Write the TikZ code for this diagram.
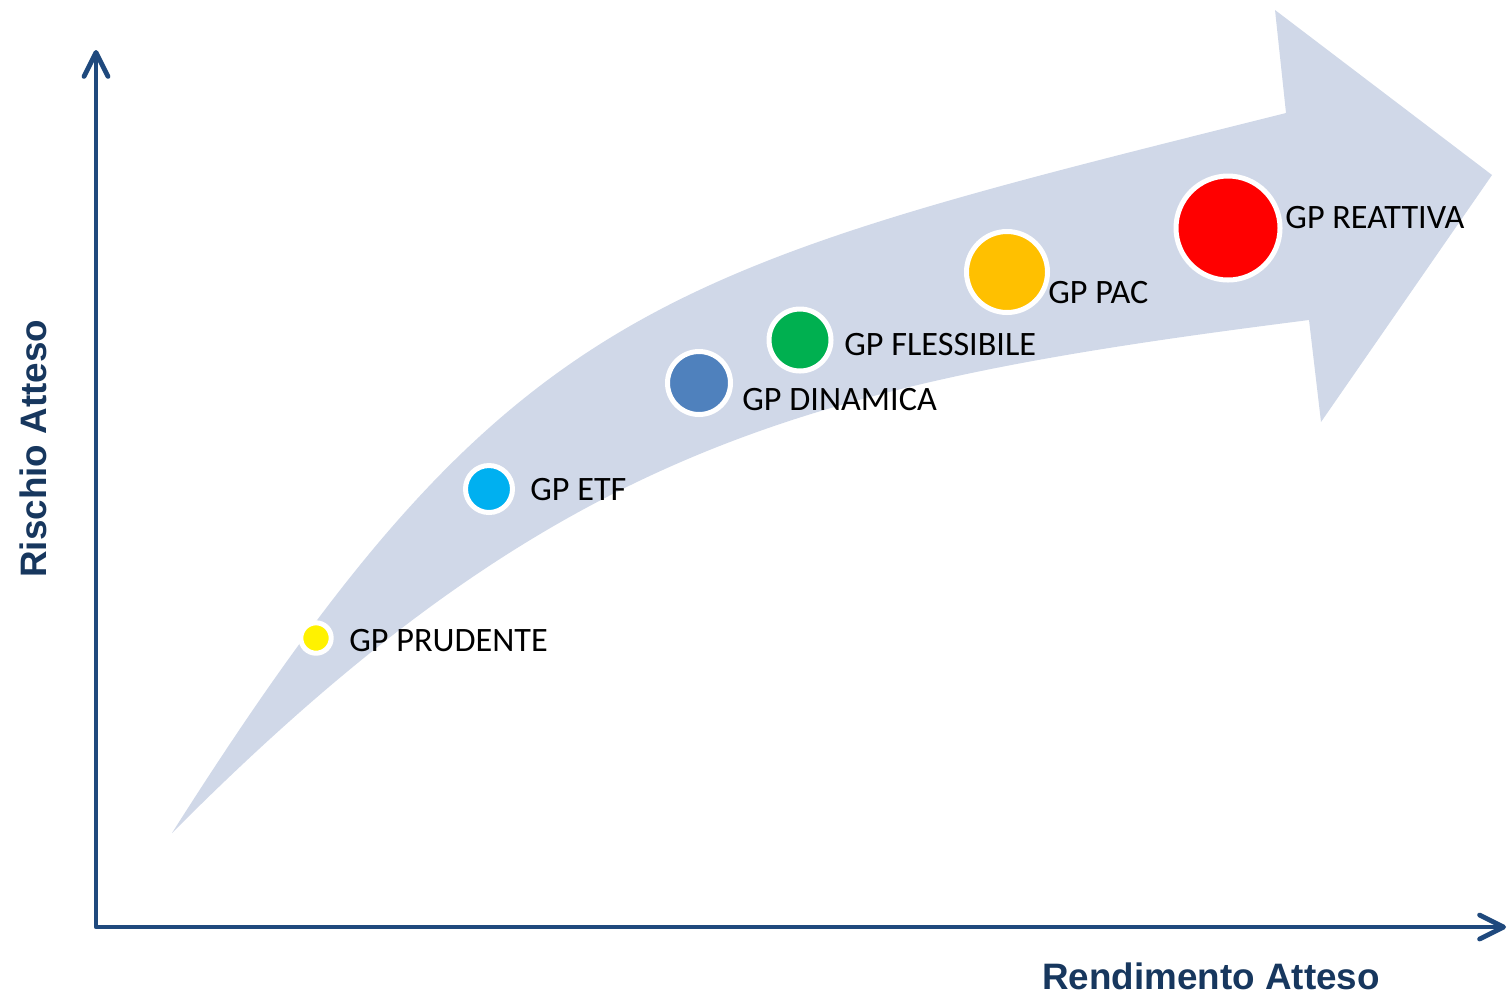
\documentclass[tikz,border=0pt]{standalone}
\usepackage{fontspec}
\setmainfont{Carlito}
\newfontfamily\axisfont{Liberation Sans}
\usetikzlibrary{arrows.meta}
\definecolor{bandblue}{RGB}{208,216,232}
\definecolor{axisblue}{RGB}{31,73,125}
\definecolor{titleblue}{RGB}{23,55,94}
\definecolor{etfblue}{RGB}{0,176,240}
\definecolor{dinblue}{RGB}{79,129,189}
\definecolor{flegreen}{RGB}{0,176,80}
\definecolor{pacorange}{RGB}{255,192,0}

\begin{document}
\begin{tikzpicture}[x=0.5pt,y=-0.5pt,
	dot/.style={circle,draw=white,line width=2.5pt,inner sep=0pt},
	lab/.style={anchor=base west,inner sep=0pt,font=\fontsize{17.1pt}{20pt}\selectfont},
	axis/.style={draw=axisblue,line width=2.4pt,line join=round,
		arrows={Straight Barb[length=12pt,width=12pt,round]-Straight Barb[length=12pt,width=12pt,round]}},
	title/.style={text=titleblue,inner sep=0pt,font=\axisfont\bfseries\fontsize{18.4pt}{22pt}\selectfont}]
	\useasboundingbox (0,0) rectangle (1508,998);
	\fill[bandblue] (172,833) .. controls (510,300) and (655,271) .. (1286,113)
		-- (1275,10) -- (1492,175) -- (1321,422) -- (1309,320)
		.. controls (813,383) and (560,443) .. (172,833) -- cycle;
	\coordinate (ytop) at (96,50);
	\coordinate (origin) at (96,927);
	\coordinate (xend) at (1506,927);
	\draw[axis] (ytop) -- (origin) -- (xend);
	\node[dot,fill=yellow,minimum size=15.2pt] (prudente) at (316,638) {};
	\node[dot,fill=etfblue,minimum size=23.5pt] (etf) at (489,489) {};
	\node[dot,fill=dinblue,minimum size=31.5pt] (dinamica) at (699,383) {};
	\node[dot,fill=flegreen,minimum size=31pt] (flessibile) at (800,340) {};
	\node[dot,fill=pacorange,minimum size=40.5pt] (pac) at (1007,272) {};
	\node[dot,fill=red,minimum size=52pt] (reattiva) at (1228,228) {};
	\node[lab] (prudente-l) at (349,651) {GP PRUDENTE};
	\node[lab] (etf-l) at (530,500) {GP ETF};
	\node[lab] (dinamica-l) at (742,410) {GP DINAMICA};
	\node[lab] (flessibile-l) at (844,355) {GP FLESSIBILE};
	\node[lab] (pac-l) at (1048,303) {GP PAC};
	\node[lab] (reattiva-l) at (1285,228) {GP REATTIVA};
	\node[title,rotate=90,anchor=base west] (rischio) at (46,578) {Rischio Atteso};
	\node[title,anchor=base west] (rendimento) at (1042,989) {Rendimento Atteso};
\end{tikzpicture}
\end{document}
